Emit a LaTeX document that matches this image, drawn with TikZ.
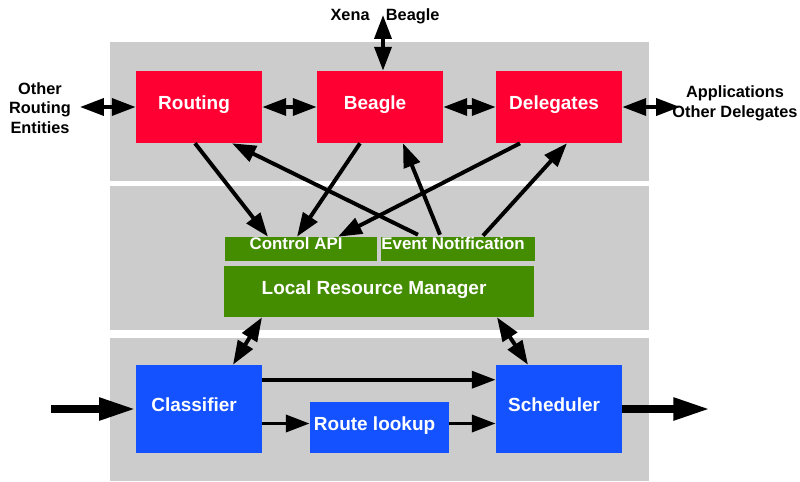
\documentclass[tikz,border=0pt]{standalone}
\usepackage{fontspec}
\setmainfont{Liberation Sans}
\usetikzlibrary{arrows.meta,calc}
\definecolor{boxred}{RGB}{255,0,51}
\definecolor{boxgreen}{RGB}{68,140,0}
\definecolor{boxblue}{RGB}{20,82,255}
\definecolor{layergray}{RGB}{204,204,204}

\begin{document}
\begin{tikzpicture}[x=0.025cm, y=-0.025cm,
    >={Triangle[length=17pt,width=12pt]},
    layer/.style={fill=layergray},
    box/.style={inner sep=0pt, text=white, text height=0.75em, text depth=0.35em,
      execute at end node={\hspace*{7pt}}, font=\fontsize{13.5}{16}\selectfont\bfseries},
    redbox/.style={box, fill=boxred, minimum width=3.15cm, minimum height=1.8cm},
    apibox/.style={box, fill=boxgreen, minimum width=3.8cm, minimum height=0.6cm,
      text height=8.5pt, text depth=8pt, font=\fontsize{12}{14}\selectfont\bfseries},
    bluebox/.style={box, fill=boxblue, minimum width=3.15cm, minimum height=2.2cm},
    outer/.style={align=center, font=\fontsize{11.6}{14}\selectfont\bfseries},
    link/.style={line width=2.8pt, ->},
    flow/.style={line width=5.5pt, -{Triangle[length=26pt,width=15pt]}}]

    \useasboundingbox (0,0) rectangle (800,481);

    \fill[layer] (110,42) rectangle (649,181);
    \fill[layer] (110,186) rectangle (649,330);
    \fill[layer] (110,338) rectangle (649,481);

    \node[redbox] (routing) at (199,107) {Routing};
    \node[redbox] (beagle) at (380,107) {Beagle};
    \node[redbox] (delegates) at (559,107) {Delegates};

    \node[apibox] (control) at (301,249) {Control API};
    \node[apibox] (event) at (458,249) {Event Notification};
    \node[box, fill=boxgreen, minimum width=7.75cm, minimum height=1.275cm] (lrm) at (379,291.5) {Local Resource Manager};

    \node[bluebox] (classifier) at (199,409) {Classifier};
    \node[box, fill=boxblue, minimum width=3.475cm, minimum height=1.275cm] (lookup) at (379.5,427.5) {Route lookup};
    \node[bluebox] (scheduler) at (559,409) {Scheduler};

    \node[outer] (others) at (40,108) {Other\\Routing\\Entities};
    \node[outer] (apps) at (735,103) {Applications\\Other Delegates};
    \node[outer] (xena) at (385,16) {Xena\quad Beagle};

    \coordinate (othersend) at (80,107);
    \coordinate (appsend) at (680,107);
    \coordinate (xenaend) at (383,15);
    \coordinate (input) at (51,409);
    \coordinate (output) at (710,409);

    \draw[link,<->] (othersend) -- (routing);
    \draw[link,<->] (routing) -- (beagle);
    \draw[link,<->] (beagle) -- (delegates);
    \draw[link,<->] (delegates) -- (appsend);
    \draw[link,<->] (beagle.north -| xenaend) -- (xenaend);

    \draw[link] ($(routing.south)+(-4,0)$) -- ($(control.north)+(-33,0)$);
    \draw[link] ($(beagle.south)+(-20,0)$) -- ($(control.north)+(-4,0)$);
    \draw[link] ($(delegates.south)+(-39,0)$) -- ($(control.north)+(37,0)$);
    \draw[link] ($(event.north)+(-40,-2)$) -- ($(routing.south)+(33,0)$);
    \draw[link] ($(event.north)+(-18,-2)$) -- ($(beagle.south)+(23,0)$);
    \draw[link] ($(event.north)+(25,-1)$) -- ($(delegates.south)+(8,0)$);

    \draw[link,<->] ($(lrm.south)+(-117,0)$) -- ($(classifier.north)+(34,0)$);
    \draw[link,<->] ($(lrm.south)+(118,0)$) -- ($(scheduler.north)+(-31,0)$);

    \draw[link] ($(classifier.north east)+(0,15)$) -- ($(scheduler.north west)+(0,15)$);
    \draw[link] ($(classifier.east |- lookup.west)+(0,-4)$) -- ($(lookup.west)+(0,-4)$);
    \draw[link] ($(lookup.east)+(0,-4)$) -- ($(scheduler.west |- lookup.east)+(0,-4)$);
    \draw[flow] (input) -- (classifier);
    \draw[flow] (scheduler) -- (output);

\end{tikzpicture}
\end{document}
